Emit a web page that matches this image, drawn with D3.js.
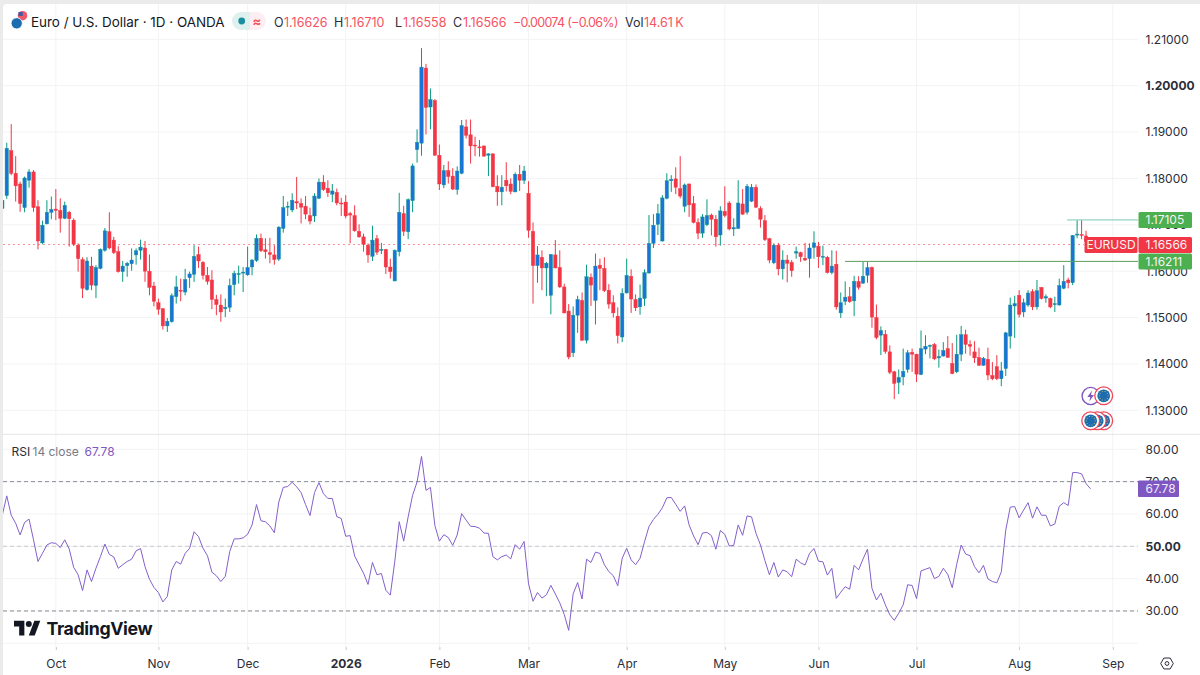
<!DOCTYPE html>
<html>
<head>
<meta charset="utf-8">
<script src="https://cdn.jsdelivr.net/npm/d3@7"></script>
<style>
  html, body { margin: 0; padding: 0; background: #fff; }
  svg { display: block; }
  text { font-family: Inter, "Noto Sans", sans-serif; }
</style>
</head>
<body>
<div id="chart"></div>
<script>
(function () {
  "use strict";

  const WIDTH = 1200;
  const HEIGHT = 675;
  const UP_BODY = "#1a74d8";
  const UP_WICK = "#089981";
  const DOWN = "#f23645";
  const PURPLE = "#7e57c2";
  const GRID = "#f2f3f5";
  const TEXT = "#2a2e39";

  /* ---- daily candles, left to right ---- */
  const opens = [
    1.1735,1.1763,1.1860,1.1811,1.1788,1.1737,1.1796,1.1814,1.1739,1.1661,1.1702,1.1727,1.1734,1.1731,1.1714,1.1727,1.1710,1.1656,1.1625,1.1560,
    1.1611,1.1569,1.1606,1.1645,1.1685,1.1667,1.1642,1.1599,1.1612,1.1616,1.1635,1.1645,1.1650,1.1600,1.1568,1.1532,1.1519,1.1482,1.1491,1.1545,
    1.1559,1.1555,1.1586,1.1593,1.1636,1.1619,1.1591,1.1581,1.1539,1.1527,1.1519,1.1522,1.1571,1.1593,1.1596,1.1592,1.1609,1.1623,1.1671,1.1646,
    1.1640,1.1635,1.1626,1.1692,1.1738,1.1732,1.1750,1.1746,1.1740,1.1720,1.1719,1.1757,1.1792,1.1779,1.1766,1.1770,1.1747,1.1749,1.1724,1.1720,
    1.1686,1.1674,1.1656,1.1632,1.1670,1.1645,1.1647,1.1609,1.1579,1.1642,1.1724,1.1685,1.1752,1.1862,1.1876,1.2038,1.1954,1.1968,1.1850,1.1786,
    1.1817,1.1805,1.1776,1.1811,1.1911,1.1894,1.1872,1.1868,1.1870,1.1850,1.1853,1.1783,1.1771,1.1796,1.1788,1.1771,1.1809,1.1796,1.1768,1.1686,
    1.1612,1.1630,1.1607,1.1548,1.1635,1.1608,1.1566,1.1514,1.1424,1.1505,1.1537,1.1451,1.1587,1.1537,1.1613,1.1606,1.1559,1.1532,1.1503,1.1458,
    1.1553,1.1589,1.1539,1.1523,1.1541,1.1596,1.1660,1.1701,1.1665,1.1757,1.1795,1.1799,1.1778,1.1740,1.1788,1.1746,1.1705,1.1682,1.1700,1.1721,
    1.1712,1.1678,1.1729,1.1747,1.1691,1.1692,1.1745,1.1727,1.1751,1.1781,1.1735,1.1709,1.1670,1.1618,1.1656,1.1605,1.1624,1.1619,1.1639,1.1640,
    1.1628,1.1627,1.1651,1.1654,1.1630,1.1630,1.1597,1.1615,1.1510,1.1535,1.1545,1.1536,1.1578,1.1574,1.1591,1.1608,1.1500,1.1462,1.1464,1.1426,
    1.1383,1.1360,1.1372,1.1388,1.1425,1.1421,1.1377,1.1432,1.1438,1.1442,1.1413,1.1417,1.1433,1.1401,1.1383,1.1421,1.1463,1.1442,1.1426,1.1414,
    1.1397,1.1410,1.1375,1.1394,1.1368,1.1390,1.1460,1.1525,1.1548,1.1512,1.1527,1.1556,1.1523,1.1565,1.1542,1.1541,1.1529,1.1527,1.1563,1.1581,
    1.1575,1.1679,1.1679,1.1676,1.16626
  ];
  const highs = [
    1.1760,1.1877,1.1917,1.1848,1.1793,1.1804,1.1820,1.1818,1.1753,1.1709,1.1753,1.1761,1.1777,1.1757,1.1750,1.1730,1.1714,1.1660,1.1630,1.1630,
    1.1631,1.1613,1.1649,1.1693,1.1727,1.1674,1.1654,1.1622,1.1620,1.1649,1.1649,1.1668,1.1665,1.1636,1.1577,1.1541,1.1520,1.1499,1.1552,1.1590,
    1.1584,1.1605,1.1599,1.1656,1.1653,1.1622,1.1609,1.1602,1.1549,1.1550,1.1541,1.1584,1.1601,1.1612,1.1609,1.1653,1.1626,1.1679,1.1681,1.1671,
    1.1672,1.1656,1.1697,1.1762,1.1750,1.1768,1.1803,1.1757,1.1762,1.1737,1.1768,1.1800,1.1807,1.1796,1.1788,1.1778,1.1758,1.1764,1.1728,1.1742,
    1.1701,1.1681,1.1660,1.1698,1.1678,1.1661,1.1648,1.1627,1.1647,1.1769,1.1741,1.1757,1.1832,1.1906,1.2081,1.2047,1.1994,1.1971,1.1873,1.1829,
    1.1837,1.1822,1.1826,1.1926,1.1927,1.1927,1.1890,1.1883,1.1871,1.1854,1.1854,1.1807,1.1807,1.1835,1.1800,1.1813,1.1829,1.1827,1.1794,1.1705,
    1.1654,1.1645,1.1620,1.1637,1.1667,1.1645,1.1573,1.1529,1.1524,1.1547,1.1554,1.1614,1.1595,1.1638,1.1627,1.1630,1.1572,1.1548,1.1522,1.1563,
    1.1627,1.1604,1.1550,1.1571,1.1604,1.1721,1.1723,1.1745,1.1764,1.1811,1.1807,1.1824,1.1848,1.1789,1.1789,1.1762,1.1714,1.1723,1.1755,1.1724,
    1.1721,1.1740,1.1783,1.1751,1.1714,1.1796,1.1777,1.1788,1.1788,1.1787,1.1740,1.1721,1.1672,1.1660,1.1661,1.1645,1.1635,1.1624,1.1653,1.1642,
    1.1661,1.1660,1.1686,1.1663,1.1655,1.1633,1.1645,1.1644,1.1554,1.1578,1.1566,1.1590,1.1589,1.1620,1.1620,1.1610,1.1528,1.1481,1.1473,1.1440,
    1.1385,1.1388,1.1433,1.1430,1.1433,1.1422,1.1472,1.1462,1.1442,1.1445,1.1431,1.1447,1.1460,1.1445,1.1463,1.1482,1.1474,1.1451,1.1449,1.1435,
    1.1415,1.1435,1.1404,1.1419,1.1404,1.1469,1.1543,1.1547,1.1559,1.1541,1.1559,1.1561,1.1581,1.1566,1.1550,1.1543,1.1545,1.1584,1.1613,1.1586,
    1.1678,1.1710,1.1710,1.1687,1.1671
  ];
  const lows = [
    1.1732,1.1756,1.1807,1.1750,1.1728,1.1727,1.1780,1.1728,1.1647,1.1658,1.1701,1.1712,1.1710,1.1683,1.1712,1.1653,1.1654,1.1599,1.1542,1.1558,
    1.1559,1.1542,1.1604,1.1642,1.1647,1.1637,1.1597,1.1577,1.1588,1.1601,1.1614,1.1625,1.1577,1.1548,1.1524,1.1506,1.1474,1.1469,1.1489,1.1530,
    1.1535,1.1548,1.1564,1.1577,1.1607,1.1582,1.1571,1.1518,1.1505,1.1491,1.1501,1.1512,1.1548,1.1573,1.1555,1.1590,1.1591,1.1620,1.1641,1.1627,
    1.1617,1.1614,1.1622,1.1683,1.1719,1.1727,1.1734,1.1703,1.1712,1.1701,1.1706,1.1756,1.1773,1.1760,1.1749,1.1742,1.1719,1.1714,1.1660,1.1685,
    1.1672,1.1642,1.1618,1.1622,1.1635,1.1637,1.1594,1.1584,1.1578,1.1632,1.1676,1.1669,1.1727,1.1834,1.1849,1.1895,1.1906,1.1849,1.1775,1.1779,
    1.1789,1.1775,1.1765,1.1809,1.1886,1.1832,1.1848,1.1847,1.1847,1.1805,1.1781,1.1741,1.1742,1.1772,1.1766,1.1770,1.1773,1.1788,1.1672,1.1530,
    1.1575,1.1559,1.1546,1.1507,1.1606,1.1564,1.1509,1.1410,1.1415,1.1467,1.1450,1.1444,1.1525,1.1485,1.1559,1.1555,1.1519,1.1500,1.1444,1.1447,
    1.1552,1.1510,1.1514,1.1506,1.1525,1.1595,1.1650,1.1678,1.1664,1.1755,1.1771,1.1766,1.1757,1.1727,1.1717,1.1703,1.1669,1.1672,1.1697,1.1677,
    1.1653,1.1655,1.1716,1.1688,1.1676,1.1691,1.1721,1.1722,1.1749,1.1736,1.1694,1.1665,1.1617,1.1615,1.1591,1.1582,1.1576,1.1588,1.1627,1.1620,
    1.1622,1.1586,1.1627,1.1607,1.1613,1.1595,1.1593,1.1517,1.1499,1.1527,1.1532,1.1503,1.1560,1.1573,1.1575,1.1478,1.1453,1.1419,1.1422,1.1378,
    1.1324,1.1335,1.1354,1.1381,1.1383,1.1361,1.1376,1.1421,1.1412,1.1408,1.1392,1.1416,1.1413,1.1378,1.1380,1.1406,1.1422,1.1418,1.1402,1.1396,
    1.1396,1.1365,1.1365,1.1365,1.1352,1.1374,1.1433,1.1456,1.1500,1.1501,1.1523,1.1516,1.1517,1.1539,1.1532,1.1520,1.1512,1.1526,1.1561,1.1563,
    1.1570,1.1671,1.1669,1.1655,1.16558
  ];
  const closes = [
    1.1753,1.1865,1.1811,1.1784,1.1746,1.1801,1.1814,1.1737,1.1665,1.1699,1.1727,1.1733,1.1731,1.1714,1.1742,1.1713,1.1658,1.1627,1.1563,1.1622,
    1.1570,1.1608,1.1647,1.1687,1.1650,1.1640,1.1599,1.1611,1.1617,1.1624,1.1644,1.1652,1.1600,1.1565,1.1535,1.1518,1.1482,1.1492,1.1547,1.1566,
    1.1557,1.1582,1.1594,1.1632,1.1622,1.1591,1.1578,1.1539,1.1528,1.1512,1.1522,1.1569,1.1595,1.1595,1.1598,1.1608,1.1624,1.1671,1.1644,1.1642,
    1.1636,1.1625,1.1695,1.1737,1.1740,1.1753,1.1747,1.1738,1.1723,1.1708,1.1762,1.1792,1.1776,1.1769,1.1773,1.1747,1.1745,1.1719,1.1721,1.1687,
    1.1674,1.1658,1.1635,1.1667,1.1641,1.1647,1.1609,1.1599,1.1645,1.1727,1.1686,1.1754,1.1827,1.1878,1.2040,1.1953,1.1970,1.1850,1.1788,1.1817,
    1.1804,1.1777,1.1816,1.1914,1.1893,1.1870,1.1870,1.1866,1.1848,1.1853,1.1782,1.1771,1.1781,1.1784,1.1772,1.1809,1.1796,1.1816,1.1688,1.1612,
    1.1635,1.1607,1.1617,1.1636,1.1607,1.1566,1.1510,1.1415,1.1505,1.1539,1.1451,1.1588,1.1570,1.1611,1.1606,1.1558,1.1529,1.1510,1.1461,1.1552,
    1.1591,1.1540,1.1521,1.1542,1.1597,1.1660,1.1699,1.1724,1.1758,1.1795,1.1798,1.1781,1.1762,1.1786,1.1743,1.1705,1.1682,1.1717,1.1720,1.1712,
    1.1674,1.1730,1.1720,1.1691,1.1694,1.1747,1.1723,1.1783,1.1781,1.1738,1.1712,1.1668,1.1624,1.1656,1.1605,1.1624,1.1617,1.1601,1.1642,1.1631,
    1.1624,1.1650,1.1661,1.1631,1.1632,1.1597,1.1611,1.1523,1.1532,1.1544,1.1534,1.1578,1.1565,1.1589,1.1608,1.1501,1.1457,1.1472,1.1427,1.1382,
    1.1358,1.1371,1.1384,1.1424,1.1421,1.1378,1.1433,1.1438,1.1440,1.1411,1.1416,1.1429,1.1414,1.1379,1.1421,1.1463,1.1442,1.1438,1.1413,1.1397,
    1.1412,1.1376,1.1368,1.1368,1.1385,1.1467,1.1527,1.1530,1.1507,1.1532,1.1553,1.1523,1.1558,1.1541,1.1545,1.1523,1.1530,1.1569,1.1578,1.1575,
    1.1677,1.1680,1.1677,1.1664,1.16566
  ];

  /* ---- RSI 14 close ---- */
  const rsi = [
    59.6,65.6,59.6,57.1,53.5,57.4,58.4,52.0,45.3,47.8,50.4,51.1,50.9,49.6,52.0,49.2,43.5,41.2,36.3,42.7,
    39.1,43.2,46.8,50.7,47.5,46.7,43.2,44.3,45.3,46.0,48.6,49.3,43.7,39.8,37.3,35.7,32.8,34.5,42.7,45.3,
    44.5,47.8,49.4,54.5,53.0,49.4,47.1,42.0,40.9,39.1,40.7,48.4,52.3,52.3,52.6,53.7,56.6,62.9,57.9,57.6,
    56.3,54.2,63.7,68.2,68.5,69.8,68.4,66.6,62.9,59.5,66.6,69.7,66.3,64.8,64.8,59.2,58.6,53.1,53.3,47.0,
    44.3,41.7,38.2,45.0,41.2,41.6,36.4,34.9,45.3,57.6,51.6,59.1,65.8,69.9,77.8,67.3,68.2,56.4,51.6,53.6,
    52.7,50.3,53.5,60.1,58.1,56.2,56.1,55.6,54.1,54.0,46.8,45.8,46.8,47.3,46.1,50.5,49.1,51.5,38.4,33.0,
    35.7,34.0,35.0,37.9,35.3,32.5,28.9,24.0,35.3,38.8,33.7,46.0,45.0,48.2,47.8,44.3,42.2,40.9,37.8,46.3,
    49.4,45.8,44.3,46.3,51.4,56.1,58.3,59.9,61.9,65.0,65.1,63.0,60.8,62.5,56.6,53.2,50.5,54.1,54.3,53.3,
    49.1,54.9,53.7,50.1,50.3,56.6,53.4,59.4,59.1,54.0,50.4,45.6,41.2,45.0,40.5,42.7,42.1,40.6,46.0,44.9,
    44.2,47.8,49.3,45.4,45.2,41.1,43.2,33.9,35.8,37.5,36.7,44.1,42.7,46.1,49.1,37.0,33.4,35.5,31.9,28.8,
    27.1,29.3,31.9,38.1,37.9,33.8,42.4,42.9,43.4,40.0,40.7,43.2,41.3,37.2,44.4,50.4,47.6,47.1,43.7,41.8,
    44.1,39.9,39.1,38.7,42.1,55.0,62.1,62.3,58.8,61.2,63.5,58.7,62.2,59.6,59.6,56.3,56.9,62.4,63.5,62.6,
    72.8,72.8,72.4,69.4,67.78
  ];

  /* ---- axes ---- */
  const priceTicks = [1.13, 1.14, 1.15, 1.16, 1.17, 1.18, 1.19, 1.20, 1.21];
  const rsiTicks = [30, 40, 50, 60, 70, 80];
  const rsiGrid = [20, 30, 40, 50, 60, 70, 80];
  const monthLabels = ["Oct", "Nov", "Dec", "2026", "Feb", "Mar", "Apr", "May", "Jun", "Jul", "Aug", "Sep"];
  const monthBars = [12, 35, 55, 77, 98, 118, 140, 162, 183, 205, 228, 249];

  /* ---- last values ---- */
  const lastClose = 1.16566;
  const highLine = 1.17105;
  const lowLine = 1.16211;
  const lastRsi = 67.78;

  /* ---- legend strip ---- */
  const legendParts = [
    { t: "O", x: 274, c: TEXT }, { t: "1.16626", x: 284, c: "#f7525f" },
    { t: "H", x: 334, c: TEXT }, { t: "1.16710", x: 344, c: "#f7525f" },
    { t: "L", x: 395, c: TEXT }, { t: "1.16558", x: 403, c: "#f7525f" },
    { t: "C", x: 453, c: TEXT }, { t: "1.16566", x: 463, c: "#f7525f" },
    { t: "\u22120.00074 (\u22120.06%)", x: 513, c: "#f7525f", w: 105.5 },
    { t: "Vol", x: 625, c: TEXT }, { t: "14.61\u2009K", x: 644, c: "#f7525f" }
  ];

  var svg = d3.select("#chart").append("svg")
    .attr("width", WIDTH).attr("height", HEIGHT)
    .attr("viewBox", "0 0 " + WIDTH + " " + HEIGHT);

  var x = d3.scaleLinear().domain([0, 244]).range([2.3, 1090.5]);
  var yPrice = d3.scaleLinear().domain([1.13, 1.21]).range([410.3, 39.3]);
  var yRsi = d3.scaleLinear().domain([20, 80]).range([643.3, 449.3]);

  var PLOT_L = 3, PLOT_R = 1138;

  svg.append("defs").append("clipPath").attr("id", "plot")
    .append("rect").attr("x", PLOT_L).attr("y", 4).attr("width", PLOT_R - PLOT_L).attr("height", 430);

  /* outer frame */
  svg.append("rect").attr("width", WIDTH).attr("height", HEIGHT).attr("fill", "#ebebeb");
  svg.append("rect").attr("x", 3).attr("y", 4).attr("width", WIDTH).attr("height", HEIGHT)
    .attr("rx", 4).attr("fill", "#fff");

  /* grid */
  var gGrid = svg.append("g");
  gGrid.selectAll("line.v").data(monthBars).enter().append("line")
    .attr("class", "v")
    .attr("x1", function (d) { return x(d); }).attr("x2", function (d) { return x(d); })
    .attr("y1", 4).attr("y2", 647)
    .attr("stroke", GRID);
  gGrid.selectAll("line.p").data(priceTicks).enter().append("line")
    .attr("class", "p")
    .attr("x1", PLOT_L).attr("x2", PLOT_R)
    .attr("y1", function (d) { return yPrice(d); }).attr("y2", function (d) { return yPrice(d); })
    .attr("stroke", GRID);
  gGrid.selectAll("line.r").data(rsiGrid).enter().append("line")
    .attr("class", "r")
    .attr("x1", PLOT_L).attr("x2", PLOT_R)
    .attr("y1", function (d) { return yRsi(d); }).attr("y2", function (d) { return yRsi(d); })
    .attr("stroke", GRID);

  /* pane separator */
  svg.append("line").attr("x1", PLOT_L).attr("x2", WIDTH).attr("y1", 434.3).attr("y2", 434.3)
    .attr("stroke", "#e4e5e8").attr("stroke-width", 1);

  /* axes */
  function styleAxis(g) {
    g.select(".domain").remove();
    g.selectAll(".tick line").remove();
    g.selectAll("text")
      .attr("font-family", "Inter, sans-serif")
      .attr("font-size", 12)
      .attr("fill", TEXT);
  }

  svg.append("g").attr("transform", "translate(1145.5,0)")
    .call(d3.axisRight(yPrice).tickValues(priceTicks).tickSize(0).tickPadding(0)
      .tickFormat(function (d) { return d.toFixed(5); }))
    .call(styleAxis)
    .selectAll("text").attr("font-weight", function (d) { return d === 1.20 ? 700 : 400; });

  svg.append("g").attr("transform", "translate(1145.5,0)")
    .call(d3.axisRight(yRsi).tickValues(rsiTicks).tickSize(0).tickPadding(0)
      .tickFormat(function (d) { return d.toFixed(2); }))
    .call(styleAxis)
    .selectAll("text").attr("font-weight", function (d) { return d === 50 ? 700 : 400; });

  var monthAxis = d3.axisBottom(x).tickValues(monthBars).tickSize(3).tickPadding(9)
    .tickFormat(function (d, i) { return monthLabels[i]; });
  var gMonths = svg.append("g").attr("transform", "translate(0,647)").call(monthAxis);
  gMonths.select(".domain").remove();
  gMonths.selectAll(".tick line").attr("stroke", "#c8cad0");
  gMonths.selectAll("text")
    .attr("font-family", "Inter, sans-serif").attr("font-size", 12).attr("fill", TEXT)
    .attr("font-weight", function (d, i) { return monthLabels[i] === "2026" ? 700 : 400; });

  /* last price dotted line */
  svg.append("line")
    .attr("x1", PLOT_L).attr("x2", 1084)
    .attr("y1", yPrice(lastClose)).attr("y2", yPrice(lastClose))
    .attr("stroke", DOWN).attr("stroke-opacity", 0.55)
    .attr("stroke-dasharray", "2 3")
    .attr("shape-rendering", "crispEdges");

  /* candles */
  var gCandles = svg.append("g").attr("clip-path", "url(#plot)");
  var candle = gCandles.selectAll("g").data(d3.range(opens.length)).enter().append("g");
  candle.append("line")
    .attr("x1", function (i) { return x(i); }).attr("x2", function (i) { return x(i); })
    .attr("y1", function (i) { return yPrice(highs[i]); })
    .attr("y2", function (i) { return yPrice(lows[i]); })
    .attr("stroke", function (i) { return closes[i] >= opens[i] ? UP_WICK : DOWN; })
    .attr("stroke-width", 1);
  candle.append("rect")
    .attr("x", function (i) { return x(i) - 1.7; })
    .attr("width", 3.4)
    .attr("y", function (i) { return yPrice(Math.max(opens[i], closes[i])); })
    .attr("height", function (i) {
      return Math.max(1, Math.abs(yPrice(opens[i]) - yPrice(closes[i])));
    })
    .attr("fill", function (i) { return closes[i] >= opens[i] ? UP_BODY : DOWN; })
    .attr("stroke", function (i) { return closes[i] >= opens[i] ? UP_WICK : DOWN; })
    .attr("stroke-width", 0.4);

  /* horizontal high / low lines */
  svg.append("line")
    .attr("x1", 1067).attr("x2", PLOT_R)
    .attr("y1", yPrice(highLine)).attr("y2", yPrice(highLine))
    .attr("stroke", "#7cc8b4");
  svg.append("line")
    .attr("x1", 845).attr("x2", PLOT_R)
    .attr("y1", yPrice(lowLine)).attr("y2", yPrice(lowLine))
    .attr("stroke", "#5a9e5e");

  /* RSI bands */
  [[70, "#8a8d96"], [50, "#c9cacf"], [30, "#8a8d96"]].forEach(function (b) {
    svg.append("line")
      .attr("x1", PLOT_L).attr("x2", PLOT_R)
      .attr("y1", yRsi(b[0])).attr("y2", yRsi(b[0]))
      .attr("stroke", b[1]).attr("stroke-dasharray", "4 3");
  });

  /* RSI line */
  var rsiLine = d3.line()
    .x(function (d, i) { return x(i); })
    .y(function (d) { return yRsi(d); });
  svg.append("path").datum(rsi)
    .attr("d", rsiLine)
    .attr("fill", "none")
    .attr("stroke", "#8460cb").attr("stroke-width", 1)
    .attr("clip-path", "url(#rsi-clip)");
  svg.select("defs").append("clipPath").attr("id", "rsi-clip")
    .append("rect").attr("x", PLOT_L).attr("y", 435).attr("width", PLOT_R - PLOT_L).attr("height", 215);

  /* price labels */
  function priceLabel(yv, fill, txt) {
    var y = yv;
    svg.append("rect")
      .attr("x", 1138.5).attr("y", y - 8).attr("width", 53.5).attr("height", 16)
      .attr("rx", 1.5).attr("fill", fill);
    svg.append("text")
      .attr("x", 1145.5).attr("y", y).attr("dy", "0.36em")
      .attr("font-size", 12).attr("fill", "#f4f4f4").text(txt);
  }
  priceLabel(yPrice(highLine), "#4caf50", highLine.toFixed(5));
  priceLabel(yPrice(lowLine), "#4caf50", lowLine.toFixed(5));
  priceLabel(yPrice(lastClose), DOWN, lastClose.toFixed(5));
  svg.append("rect")
    .attr("x", 1084.5).attr("y", yPrice(lastClose) - 8).attr("width", 53).attr("height", 16)
    .attr("rx", 1.5).attr("fill", DOWN);
  svg.append("text")
    .attr("x", 1111).attr("y", yPrice(lastClose)).attr("dy", "0.36em")
    .attr("text-anchor", "middle")
    .attr("font-size", 12).attr("fill", "#f4f4f4").text("EURUSD");

  /* RSI label */
  svg.append("rect")
    .attr("x", 1138).attr("y", yRsi(lastRsi) - 8.3).attr("width", 41).attr("height", 16.6)
    .attr("rx", 1).attr("fill", PURPLE);
  svg.append("text")
    .attr("x", 1145.5).attr("y", yRsi(lastRsi)).attr("dy", "0.36em")
    .attr("font-size", 12).attr("fill", "#f0ecf8").text(lastRsi.toFixed(2));

  /* event badges */
  function euBadge(cx, cy) {
    svg.append("circle").attr("cx", cx).attr("cy", cy).attr("r", 8.9)
      .attr("fill", "#fff").attr("stroke", "#f0465a").attr("stroke-width", 1.3);
    svg.append("circle").attr("cx", cx).attr("cy", cy).attr("r", 6.4).attr("fill", "#1c6cb0");
    svg.selectAll(null).data(d3.range(10)).enter().append("circle")
      .attr("cx", function (d) { return cx + 4.4 * Math.cos(d * Math.PI / 5); })
      .attr("cy", function (d) { return cy + 4.4 * Math.sin(d * Math.PI / 5); })
      .attr("r", 0.5).attr("fill", "#d9c56a");
  }
  svg.append("circle").attr("cx", 1090.7).attr("cy", 396).attr("r", 8.6)
    .attr("fill", "#fff").attr("stroke", PURPLE).attr("stroke-width", 1.4);
  svg.append("path")
    .attr("d", "M1092 390.5 L1087.3 397 L1090.3 397 L1089.2 401.5 L1094 395 L1091 395 Z")
    .attr("fill", PURPLE);
  euBadge(1103.7, 395.8);
  euBadge(1103.7, 420.8);
  euBadge(1097.2, 420.8);
  euBadge(1090.7, 420.8);

  /* header */
  svg.append("circle").attr("cx", 22.5).attr("cy", 15.7).attr("r", 4.8).attr("fill", "#ef5a6a");
  svg.append("rect").attr("x", 18.5).attr("y", 12).attr("width", 4.2).attr("height", 4).attr("fill", "#3a5ea8");
  svg.append("circle").attr("cx", 16.7).attr("cy", 23.3).attr("r", 5.6)
    .attr("fill", "#1c6cb0").attr("stroke", "#fff").attr("stroke-width", 0.8);
  svg.append("text").attr("x", 31).attr("y", 22).attr("dy", "0.36em")
    .attr("font-size", 13.45).attr("fill", "#131722").text("Euro / U.S. Dollar \u00b7 1D \u00b7 OANDA");

  svg.append("path")
    .attr("d", "M250 12 H241 A9 9 0 0 0 241 30 H250 Z").attr("fill", "#dff1ee");
  svg.append("path")
    .attr("d", "M250 12 H257 A9 9 0 0 1 257 30 H250 Z").attr("fill", "#fdeff1");
  svg.append("circle").attr("cx", 241.7).attr("cy", 21).attr("r", 3.4).attr("fill", "#1a8e9e");
  svg.append("text").attr("x", 257).attr("y", 21).attr("dy", "0.36em")
    .attr("text-anchor", "middle").attr("font-size", 13).attr("font-weight", 700)
    .attr("fill", "#f7525f").text("\u2248");

  svg.selectAll("text.legend").data(legendParts).enter().append("text")
    .attr("class", "legend")
    .attr("x", function (d) { return d.x; }).attr("y", 22).attr("dy", "0.36em")
    .attr("font-size", 12.5)
    .attr("textLength", function (d) { return d.w || null; })
    .attr("fill", function (d) { return d.c; })
    .text(function (d) { return d.t; });

  /* RSI legend */
  var rsiLegend = [
    { t: "RSI", x: 11.5, c: TEXT }, { t: "14 close", x: 32.5, c: "#787b86" }, { t: "67.78", x: 84.5, c: PURPLE }
  ];
  svg.selectAll("text.rsileg").data(rsiLegend).enter().append("text")
    .attr("class", "rsileg")
    .attr("x", function (d) { return d.x; }).attr("y", 451.5).attr("dy", "0.36em")
    .attr("font-size", 12)
    .attr("fill", function (d) { return d.c; })
    .text(function (d) { return d.t; });

  /* logo */
  svg.append("path")
    .attr("transform", "translate(14,617.5) scale(0.74,0.82)")
    .attr("d", "M14 22H7V11H0V4h14v18zM28 22h-8l7.5-18h8L28 22z")
    .attr("fill", "#131722");
  svg.append("circle")
    .attr("cx", 14 + 20 * 0.74).attr("cy", 617.5 + 8 * 0.82).attr("r", 3)
    .attr("fill", "#131722");
  svg.append("text").attr("x", 46.5).attr("y", 628.5).attr("dy", "0.36em")
    .attr("font-size", 17.8).attr("font-weight", 700).attr("letter-spacing", "-0.4")
    .attr("fill", "#131722").text("TradingView");

  /* settings icon */
  svg.append("path")
    .attr("d", d3.range(6).map(function (k) {
      var a = Math.PI / 3 * k;
      return (k ? "L" : "M") + (1167 + 6.3 * Math.cos(a)) + " " + (663.5 + 6.3 * Math.sin(a));
    }).join("") + "Z")
    .attr("fill", "none").attr("stroke", "#2a2e39").attr("stroke-width", 1);
  svg.append("circle").attr("cx", 1167).attr("cy", 663.5).attr("r", 1.9)
    .attr("fill", "none").attr("stroke", "#2a2e39").attr("stroke-width", 1);
})();
</script>
</body>
</html>
